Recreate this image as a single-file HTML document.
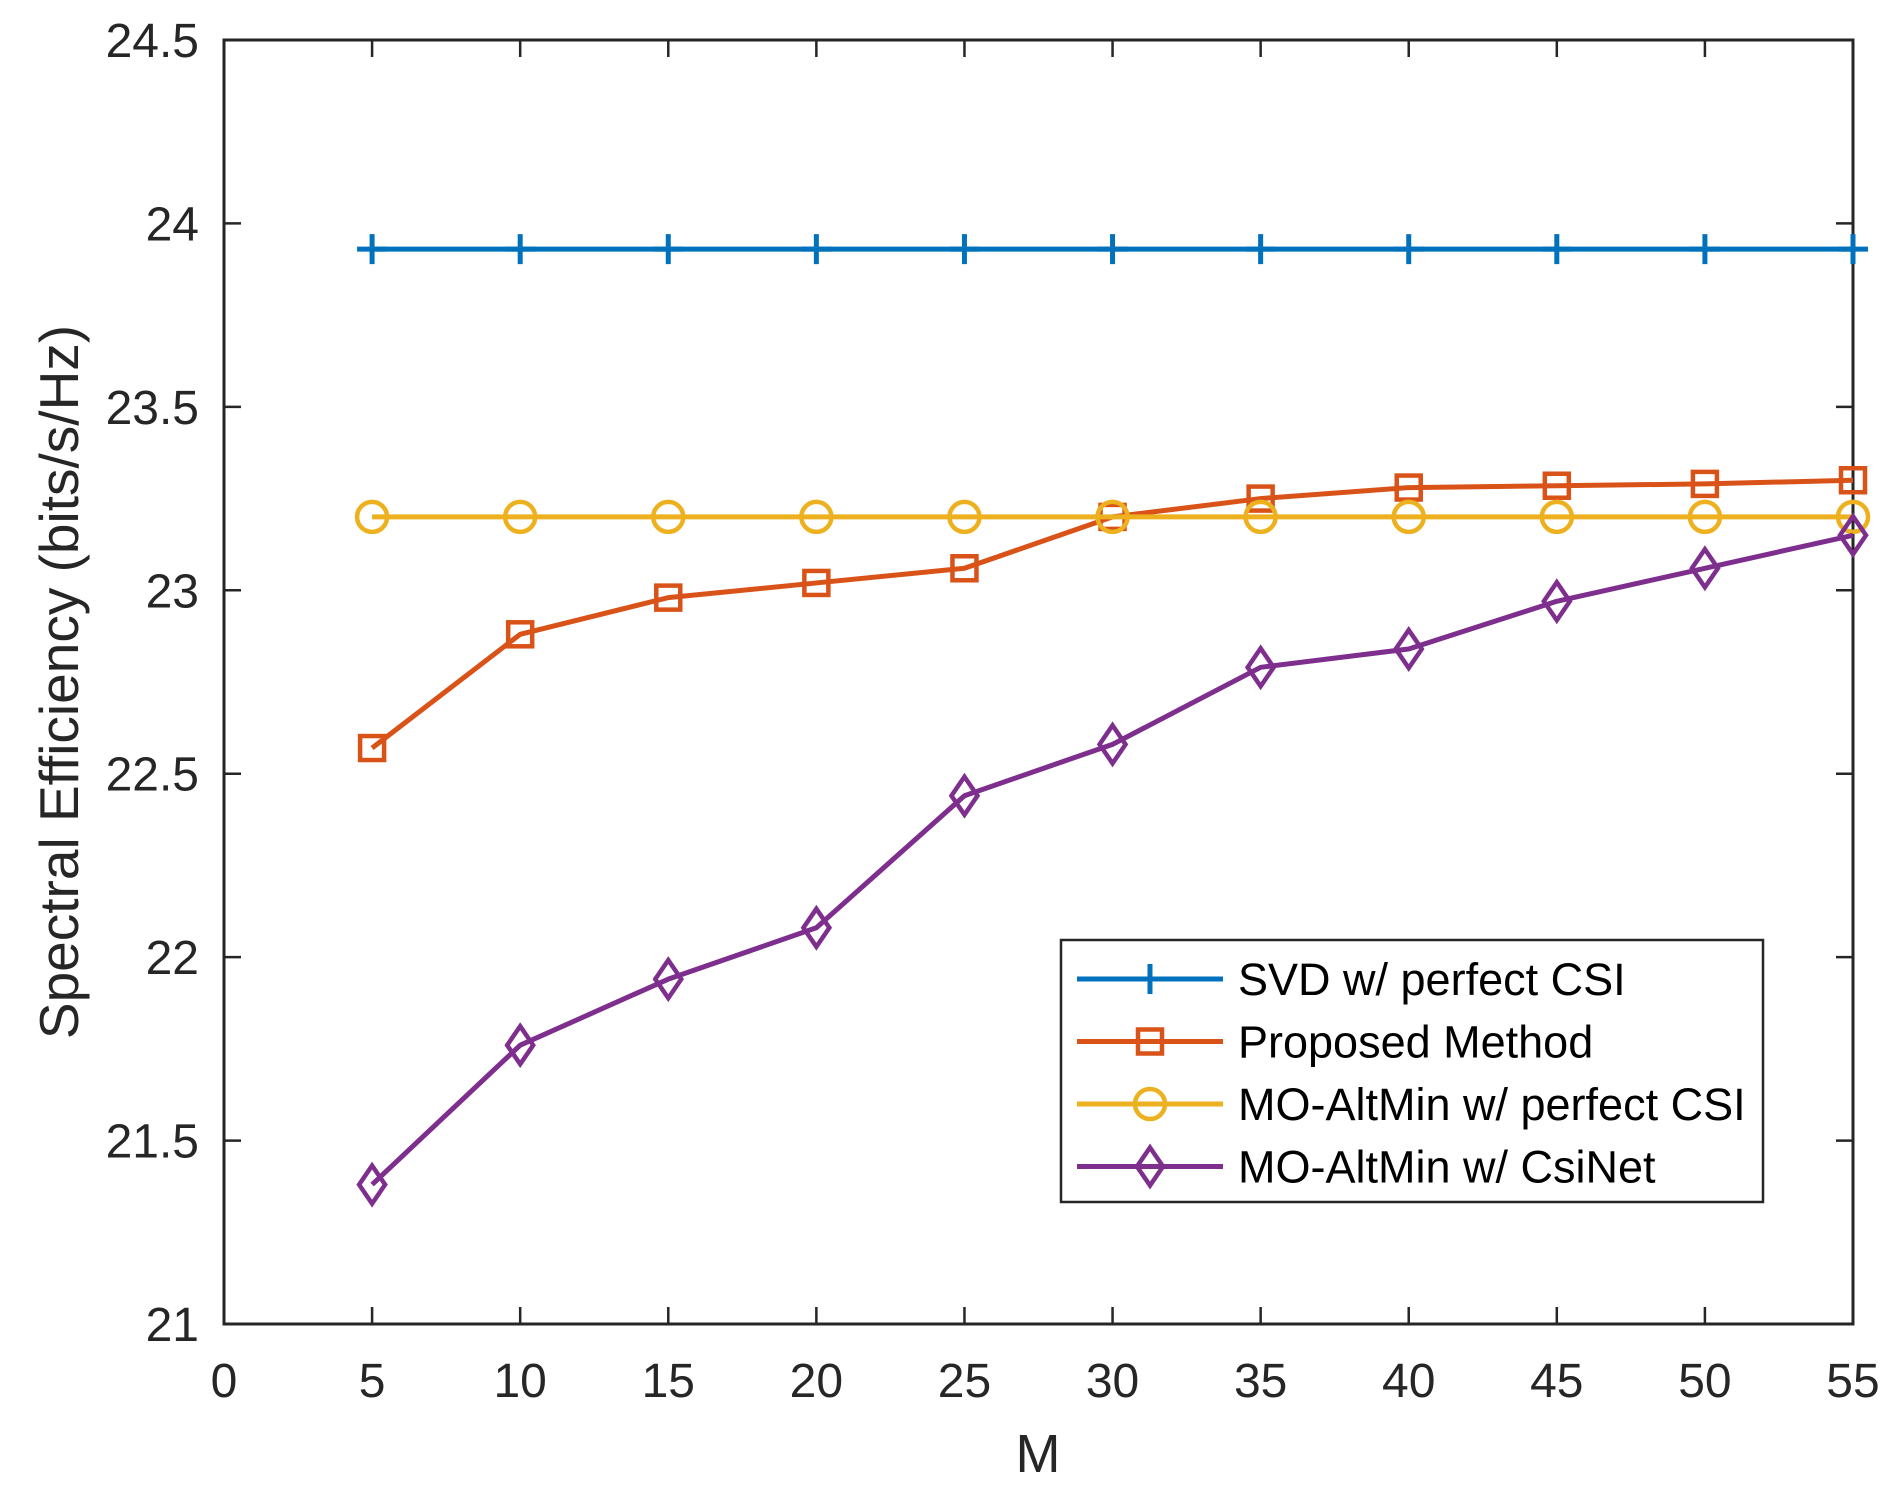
<!DOCTYPE html>
<html><head><meta charset="utf-8"><style>
body{margin:0;background:#fff}
svg{display:block;font-family:"Liberation Sans",sans-serif}
</style></head><body>
<svg id="chart" width="1899" height="1493" viewBox="0 0 1899 1493" xmlns="http://www.w3.org/2000/svg">
<rect width="1899" height="1493" fill="#fff"/>
<g id="plot"></g>
</svg>
<script>
const xValues=[5,10,15,20,25,30,35,40,45,50,55];
const svdValues=[23.93,23.93,23.93,23.93,23.93,23.93,23.93,23.93,23.93,23.93,23.93];
const proposedValues=[22.57,22.88,22.98,23.02,23.06,23.20,23.25,23.28,23.285,23.29,23.30];
const moPerfectValues=[23.2,23.2,23.2,23.2,23.2,23.2,23.2,23.2,23.2,23.2,23.2];
const csinetValues=[21.38,21.76,21.94,22.08,22.44,22.58,22.79,22.84,22.97,23.06,23.15];
const xTicks=[0,5,10,15,20,25,30,35,40,45,50,55];
const yTicks=[21,21.5,22,22.5,23,23.5,24,24.5];
const yTickLabels=["21","21.5","22","22.5","23","23.5","24","24.5"];
const legendLabels=["SVD w/ perfect CSI","Proposed Method","MO-AltMin w/ perfect CSI","MO-AltMin w/ CsiNet"];

const L=224,R=1853,T=40,B=1324;
const xs=v=>L+(v-0)/55*(R-L);
const ys=v=>B-(v-21)/3.5*(B-T);
const NS="http://www.w3.org/2000/svg";
const g=document.getElementById('plot');
function el(tag,attrs,parent){const e=document.createElementNS(NS,tag);for(const k in attrs)e.setAttribute(k,attrs[k]);(parent||g).appendChild(e);return e;}
const ax="#262626";
xTicks.forEach((t,i)=>{
  const x=xs(t);
  const a=el('line',{x1:x,x2:x,y1:B,y2:B-17,stroke:ax,'stroke-width':2.5});
  
  
  const b=el('line',{x1:x,x2:x,y1:T,y2:T+17,stroke:ax,'stroke-width':2.5});
  
  
  const tx=el('text',{x:x,y:1397,'font-size':48,'text-anchor':'middle',fill:ax});
  tx.textContent=String(t);
  
  
});
yTicks.forEach((t,i)=>{
  const y=ys(t);
  const a=el('line',{x1:L,x2:L+17,y1:y,y2:y,stroke:ax,'stroke-width':2.5});
  
  
  const b=el('line',{x1:R,x2:R-17,y1:y,y2:y,stroke:ax,'stroke-width':2.5});
  
  
  const tx=el('text',{x:199,y:y+17,'font-size':48,'text-anchor':'end',fill:ax});
  tx.textContent=yTickLabels[i];
  
  
});
const frame=el('rect',{x:L,y:T,width:R-L,height:B-T,fill:'none',stroke:ax,'stroke-width':3});


const xl=el('text',{x:1038,y:1472,'font-size':54,'text-anchor':'middle',fill:ax});
xl.textContent='M';


const yl=el('text',{x:0,y:0,'font-size':55,'text-anchor':'middle',fill:ax,transform:'translate(78,682) rotate(-90)'});
yl.textContent='Spectral Efficiency (bits/s/Hz)';



function marker(type,x,y,c,parent){
  let m;
  if(type==='plus'){m=el('path',{d:`M${x-15},${y}H${x+15}M${x},${y-15}V${y+15}`,stroke:c,'stroke-width':5,fill:'none'},parent);}
  else if(type==='square'){m=el('rect',{x:x-12,y:y-12,width:24,height:24,stroke:c,'stroke-width':4.5,fill:'none'},parent);}
  else if(type==='circle'){m=el('circle',{cx:x,cy:y,r:15,stroke:c,'stroke-width':4.5,fill:'none'},parent);}
  else {m=el('path',{d:`M${x},${y-19}L${x+13},${y}L${x},${y+19}L${x-13},${y}Z`,stroke:c,'stroke-width':4.5,fill:'none'},parent);}
  return m;
}
const series=[
  {vals:svdValues,c:'#0072BD',m:'plus',n:'svd'},
  {vals:proposedValues,c:'#D95319',m:'square',n:'proposed'},
  {vals:moPerfectValues,c:'#EDB120',m:'circle',n:'mo-altmin-perfect'},
  {vals:csinetValues,c:'#7E2F8E',m:'diamond',n:'mo-altmin-csinet'}
];
series.forEach(s=>{
  const sg=el('g',{});
  
  
  const pts=s.vals.map((v,i)=>xs(xValues[i])+','+ys(v)).join(' ');
  const pl=el('polyline',{points:pts,fill:'none',stroke:s.c,'stroke-width':5,'stroke-linejoin':'round'},sg);
  
  
  s.vals.forEach((v,i)=>{
    const mk=marker(s.m,xs(xValues[i]),ys(v),s.c,sg);
    
    
  });
});
const lg=el('g',{});


el('rect',{x:1061,y:940,width:702,height:262,fill:'#fff',stroke:ax,'stroke-width':2.5},lg);
series.forEach((s,i)=>{
  const y=979+i*62.5;
  const eg=el('g',{},lg);
  
  
  el('line',{x1:1077,x2:1223,y1:y,y2:y,stroke:s.c,'stroke-width':5},eg);
  marker(s.m,1150,y,s.c,eg);
  const t=el('text',{x:1238,y:y+16,'font-size':45,fill:'#000'},eg);
  t.textContent=legendLabels[i];
});
</script>
</body></html>
